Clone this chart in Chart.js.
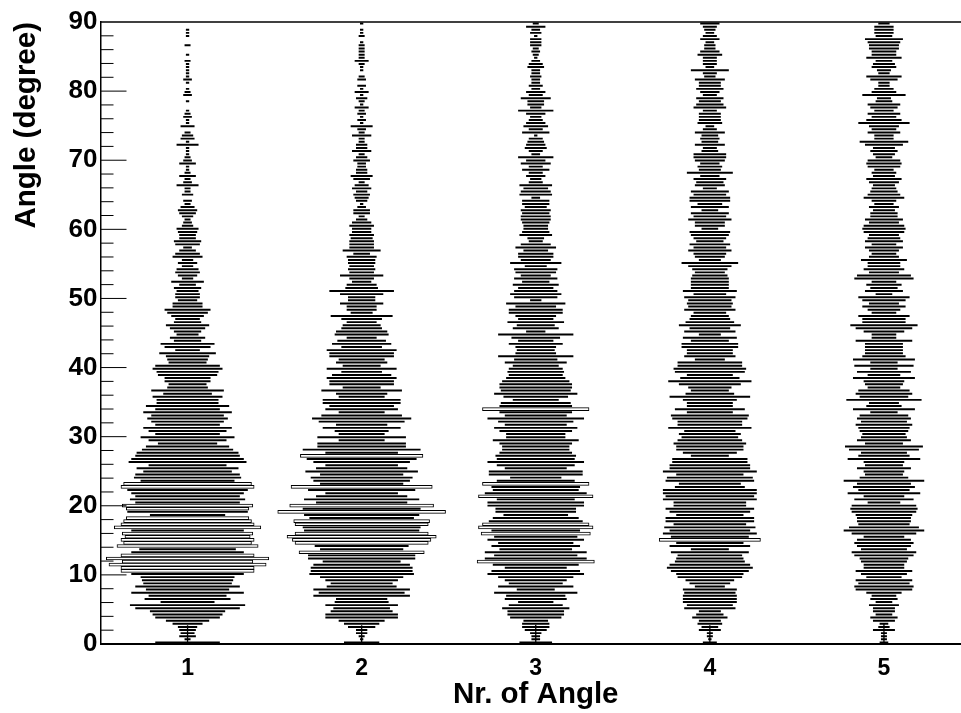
<!DOCTYPE html>
<html>
<head>
<meta charset="utf-8">
<title>Angle</title>
<script src="https://cdn.jsdelivr.net/npm/chart.js@4"></script>
<style>
    html, body { margin: 0; padding: 0; background: #fff; overflow: hidden; }
    #wrap { width: 961px; height: 713px; overflow: hidden; }
</style>
</head>
<body>
<div id="wrap"><canvas id="angleChart" width="975" height="713"></canvas></div>
<script>
const categories = ['1', '2', '3', '4', '5'];
const binWidth = 0.45; // degree
const stemTops = [2.7, 2.7, 2.8, 2.7, 2.9];

// entries per angle bin, from 0 degree upwards
const angle1 = [
    24,2,6,5,6,7,11,16,24,26,
    28,39,43,20,32,29,42,31,39,33,
    34,35,42,50,50,59,49,61,50,42,
    36,53,48,50,47,49,42,55,50,48,
    46,28,45,46,49,39,43,39,42,45,
    50,48,35,40,39,33,38,29,44,42,
    39,38,34,31,22,29,35,24,29,33,
    24,27,30,27,33,24,31,23,23,26,
    18,27,15,14,17,17,22,23,26,24,
    14,15,16,21,9,17,20,10,13,8,
    10,13,16,10,9,12,15,17,11,11,
    7,9,9,8,10,6,12,4,7,9,
    8,4,7,4,11,9,6,3,9,10,
    6,6,7,8,4,3,2,4,6,7,
    5,2,3,0,4,2,2,8,3,2,
    6,2,1,1,6,3,2,1,1,1,
    8,1,5,4,2,0,5,1,1,3,
    2,1,0,0,1,0,3,2,1,0,
    1,3,1,1,1,1,1,2,0,1,
    0,0,2,0,0,1,1,1,0,0
];
const angle2 = [
    13,1,2,4,4,10,13,17,27,27,
    23,21,27,20,19,36,32,36,26,23,
    27,31,39,38,38,36,29,40,40,47,
    31,35,50,52,56,50,43,44,50,51,
    39,43,63,44,54,34,43,34,27,40,
    53,31,36,38,31,42,34,27,36,41,
    46,27,44,33,33,17,33,17,20,29,
    19,32,37,30,17,27,24,29,29,17,
    19,30,14,24,24,26,22,15,26,14,
    19,17,24,24,26,15,22,18,11,20,
    19,15,14,11,15,23,8,11,11,16,
    10,10,16,24,12,11,7,9,16,9,
    10,9,10,10,11,6,14,9,9,9,
    8,9,7,7,9,7,4,2,6,6,
    3,1,4,5,6,4,7,5,2,6,
    8,4,4,3,3,6,4,2,7,4,
    4,2,2,7,2,3,8,1,3,1,
    3,2,5,1,2,4,1,5,1,3,
    0,3,2,0,1,1,2,5,2,2,
    2,2,2,1,0,2,1,1,0,1
];
const angle3 = [
    12,3,3,4,8,10,10,9,19,21,
    21,25,20,13,23,22,31,14,28,20,
    23,28,36,33,23,32,44,38,31,38,
    27,33,28,36,31,41,33,43,40,35,
    32,24,30,30,36,36,29,43,38,32,
    33,40,29,19,35,35,23,29,36,29,
    30,27,25,25,27,32,22,22,27,31,
    23,28,36,23,27,40,27,26,17,24,
    31,26,27,27,25,22,20,21,20,17,
    23,16,28,15,14,15,20,13,18,28,
    7,17,14,21,13,15,20,20,15,22,
    4,16,19,16,13,17,10,16,11,15,
    16,8,19,11,13,13,9,15,11,5,
    6,12,10,9,9,10,11,11,10,11,
    8,10,10,3,12,11,9,12,5,4,
    7,5,10,5,11,7,13,3,5,8,
    7,6,5,1,10,5,9,7,5,4,
    7,13,4,6,6,11,5,7,3,5,
    3,3,4,3,3,6,5,3,1,2,
    3,2,4,4,4,1,4,3,7,2
];
const angle4 = [
    5,1,2,2,8,6,9,8,13,10,
    8,19,17,20,20,20,19,20,11,15,
    18,24,25,29,32,30,26,25,24,29,
    14,30,25,38,29,35,30,34,27,33,
    33,25,30,33,27,27,35,33,35,35,
    26,23,33,32,25,35,30,30,28,28,
    14,20,25,25,27,24,21,23,19,31,
    24,24,28,29,17,26,17,17,20,30,
    18,14,16,23,31,22,17,26,27,24,
    24,11,19,17,17,21,21,14,20,8,
    19,15,23,18,15,14,12,19,16,17,
    16,19,12,20,14,14,14,14,13,11,
    13,16,21,8,11,12,16,12,15,10,
    12,14,15,6,11,11,16,12,14,6,
    14,9,15,15,12,14,5,11,10,12,
    7,17,8,9,7,11,12,12,6,5,
    11,6,7,6,11,5,3,9,8,8,
    8,5,12,10,8,10,5,7,10,8,
    8,11,4,5,14,3,5,5,5,9,
    7,4,4,3,7,5,3,4,5,7
];
const angle5 = [
    3,2,2,2,8,4,3,8,10,6,
    8,8,11,6,10,9,13,21,22,19,
    21,13,17,21,15,15,17,18,22,24,
    17,20,22,20,15,24,30,26,19,20,
    20,21,24,25,24,12,22,15,27,19,
    23,20,30,18,14,15,20,14,15,27,
    19,17,26,29,14,20,17,16,18,19,
    21,17,20,18,10,23,13,11,28,18,
    21,19,12,14,15,23,12,20,10,22,
    10,23,16,14,14,14,14,21,9,9,
    15,21,25,16,16,19,9,12,16,11,
    16,19,6,14,10,13,9,22,20,11,
    15,12,12,17,11,9,11,14,9,14,
    12,11,15,16,15,11,14,10,10,8,
    11,7,9,15,12,10,9,8,11,13,
    8,9,7,12,13,12,6,8,10,8,
    14,18,7,7,12,9,11,19,13,9,
    12,7,10,12,6,5,16,9,7,4,
    4,10,13,4,5,9,8,6,13,9,
    9,11,11,12,14,6,7,7,7,4
];
const series = [angle1, angle2, angle3, angle4, angle5];
// from this many entries on the bars show their white inside
const outlineFrom = [46, 46, 40, 36, 99];

const entryWidth = 0.0153; // x units per entry
const font = '"Liberation Sans", Arial, sans-serif';

function violinBars(values, cat, keep) {
    let rows = [];
    values.forEach((n, i) => {
        if (n > 0 && keep(n))
            rows.push({
                x: [cat - n * entryWidth / 2, cat + n * entryWidth / 2],
                y: (i + 0.5) * binWidth
            });
    });
    return rows;
}

// inward ticks and the top line, root style
const frame = {
    id: 'frame',
    afterDraw(chart) {
        const ctx = chart.ctx, y = chart.scales.y, area = chart.chartArea;
        ctx.save();
        ctx.strokeStyle = '#000';
        ctx.lineWidth = 1;
        for (let v = 2; v < 90; v += 2) {
            let py = y.getPixelForValue(v);
            let len = v % 10 === 0 ? 26 : 13;
            ctx.beginPath();
            ctx.moveTo(area.left, py);
            ctx.lineTo(area.left + len, py);
            ctx.stroke();
        }
        ctx.lineWidth = 1.5;
        ctx.beginPath();
        ctx.moveTo(area.left, area.top);
        ctx.lineTo(area.right, area.top);
        ctx.stroke();
        ctx.restore();
    }
};

let datasets = [];
series.forEach((values, k) => {
    datasets.push({
        data: violinBars(values, k + 1, n => n < outlineFrom[k]),
        backgroundColor: '#000',
        borderWidth: 0,
        barThickness: 1.3,
        grouped: false
    });
    datasets.push({
        data: violinBars(values, k + 1, n => n >= outlineFrom[k]),
        backgroundColor: '#fff',
        borderColor: '#000',
        borderWidth: 1,
        borderSkipped: false,
        barThickness: 3,
        grouped: false
    });
    datasets.push({
        type: 'line',
        indexAxis: 'y',
        data: [{x: k + 1, y: 0}, {x: k + 1, y: stemTops[k]}],
        borderColor: '#000',
        borderWidth: 1.3,
        pointRadius: 0
    });
});

new Chart(document.getElementById('angleChart').getContext('2d'), {
    type: 'bar',
    data: {datasets: datasets},
    plugins: [frame],
    options: {
        indexAxis: 'y',
        responsive: false,
        animation: false,
        layout: {padding: {top: 22, right: 4}},
        plugins: {legend: {display: false}, tooltip: {enabled: false}},
        scales: {
            x: {
                type: 'linear',
                min: 0.5,
                max: 5.5,
                afterFit: s => { s.height = 69; },
                afterBuildTicks: s => { s.ticks = categories.map((c, i) => ({value: i + 1})); },
                grid: {display: false, drawTicks: false},
                border: {color: '#000', width: 2},
                ticks: {
                    autoSkip: false,
                    maxRotation: 0,
                    padding: 11,
                    color: '#000',
                    font: {family: font, weight: 'bold', size: 23},
                    callback: v => categories[v - 1]
                },
                title: {
                    display: true,
                    text: 'Nr. of Angle',
                    color: '#000',
                    padding: 0,
                    font: {family: font, weight: 'bold', size: 29.5}
                }
            },
            y: {
                type: 'linear',
                min: 0,
                max: 90,
                offset: false,
                afterFit: s => { s.width = 100.5; },
                grid: {display: false, offset: false, drawTicks: false},
                border: {color: '#000', width: 1.5},
                ticks: {
                    stepSize: 10,
                    padding: 3,
                    color: '#000',
                    font: {family: font, weight: 'bold', size: 26}
                },
                title: {
                    display: true,
                    text: 'Angle (degree)',
                    align: 'end',
                    color: '#000',
                    padding: {top: 9, bottom: 0},
                    font: {family: font, weight: 'bold', size: 29.5}
                }
            }
        }
    }
});
</script>
</body>
</html>
